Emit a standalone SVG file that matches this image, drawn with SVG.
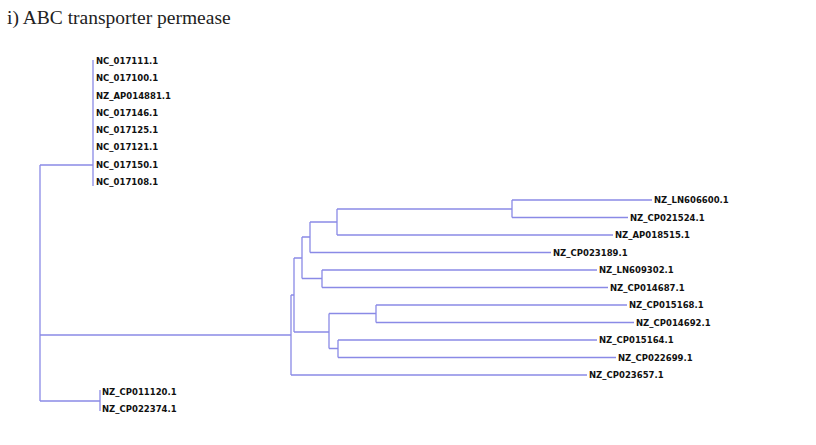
<svg xmlns="http://www.w3.org/2000/svg" width="816" height="445" viewBox="0 0 816 445">
<style>
.t{font-family:"Liberation Serif","Times New Roman",serif;font-size:19.5px;fill:#222}
.l{font-family:"DejaVu Sans",Verdana,sans-serif;font-size:8.5px;font-weight:bold;fill:#111}
.e{fill:none;stroke:#8a8ae6;stroke-width:1.3}
</style>
<rect width="816" height="445" fill="#fff"/>
<text class="t" x="7" y="24">i) ABC transporter permease</text>
<g id="connectors">
<path class="e" d="M40,165V401M40,165H93M93,60V186M40,401H100M100,390V411M40,335H291"/>
<path class="e" d="M291,295V375M291,375H587M291,295H294M294,258V332"/>
<path class="e" d="M294,258H302M302,237V278.5M302,237H310M310,222V252.5M310,222H337M337,209V235M337,209H512M512,200V217.5M512,200H652M512,217.5H628M337,235H613M310,252.5H551"/>
<path class="e" d="M302,278.5H322M322,270V287.5M322,270H597M322,287.5H608"/>
<path class="e" d="M294,332H329M329,313.5V348.5M329,313.5H376M376,305V322.5M376,305H627M376,322.5H634M329,348.5H338M338,340V357.5M338,340H597M338,357.5H616"/>
</g>
<g id="n1"><text class="l" x="96" y="64">NC_017111.1</text></g>
<g id="n2"><text class="l" x="96" y="81">NC_017100.1</text></g>
<g id="n3"><text class="l" x="96" y="98.5">NZ_AP014881.1</text></g>
<g id="n4"><text class="l" x="96" y="115.5">NC_017146.1</text></g>
<g id="n5"><text class="l" x="96" y="133">NC_017125.1</text></g>
<g id="n6"><text class="l" x="96" y="150">NC_017121.1</text></g>
<g id="n7"><text class="l" x="96" y="167.5">NC_017150.1</text></g>
<g id="n8"><text class="l" x="96" y="185">NC_017108.1</text></g>
<g id="n9"><text class="l" x="654" y="203">NZ_LN606600.1</text></g>
<g id="n10"><text class="l" x="630" y="220.5">NZ_CP021524.1</text></g>
<g id="n11"><text class="l" x="615" y="238">NZ_AP018515.1</text></g>
<g id="n12"><text class="l" x="553" y="255.5">NZ_CP023189.1</text></g>
<g id="n13"><text class="l" x="599" y="273">NZ_LN609302.1</text></g>
<g id="n14"><text class="l" x="610" y="290.5">NZ_CP014687.1</text></g>
<g id="n15"><text class="l" x="629" y="308">NZ_CP015168.1</text></g>
<g id="n16"><text class="l" x="636" y="325.5">NZ_CP014692.1</text></g>
<g id="n17"><text class="l" x="599" y="343">NZ_CP015164.1</text></g>
<g id="n18"><text class="l" x="618" y="360.5">NZ_CP022699.1</text></g>
<g id="n19"><text class="l" x="589" y="378">NZ_CP023657.1</text></g>
<g id="n20"><text class="l" x="102" y="395">NZ_CP011120.1</text></g>
<g id="n21"><text class="l" x="102" y="412">NZ_CP022374.1</text></g>
</svg>
